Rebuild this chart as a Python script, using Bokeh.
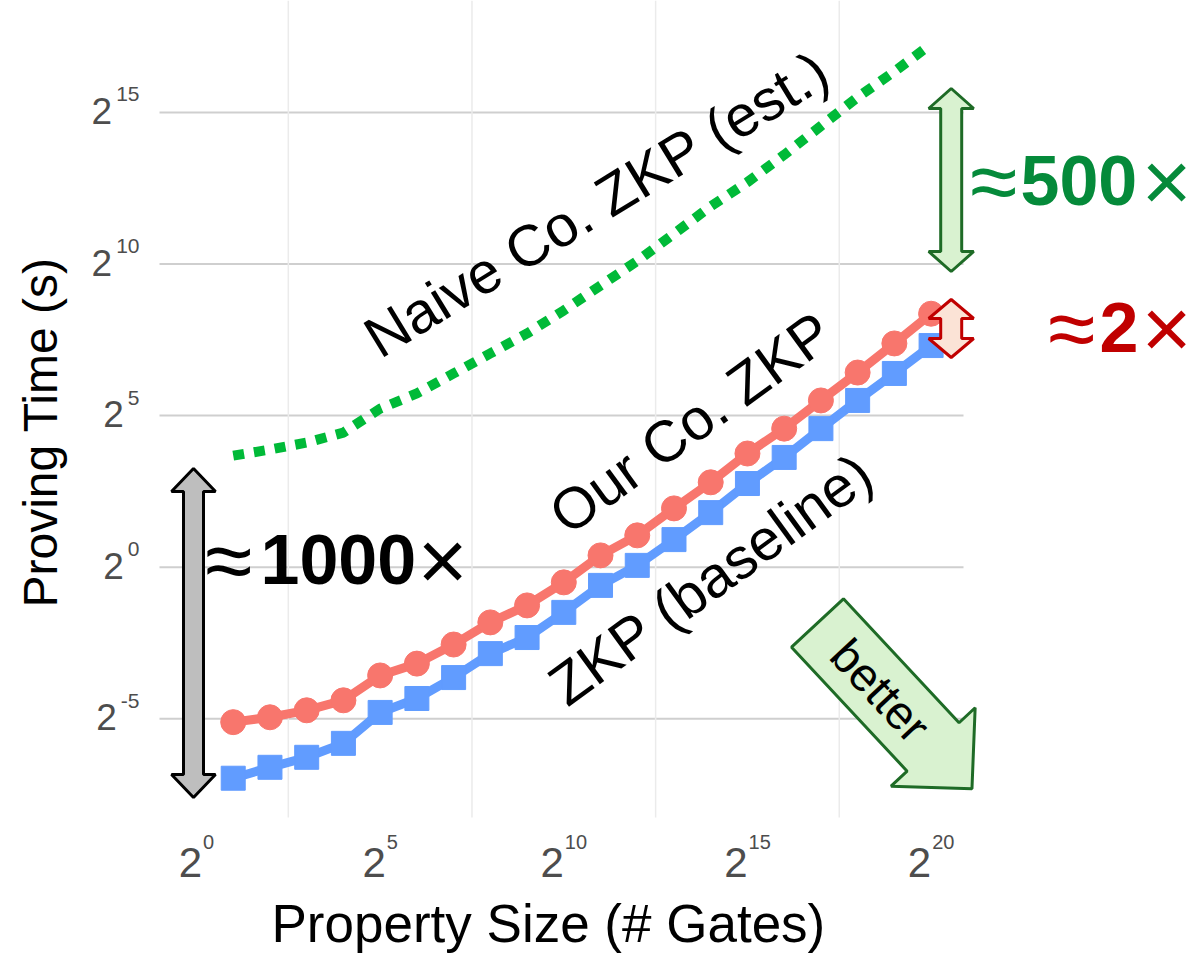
import math
from bokeh.plotting import figure
from bokeh.models import ColumnDataSource, Range1d, Title
from bokeh.core.properties import value
from bokeh.embed import file_html
from bokeh.resources import INLINE

# ---------------- data (log2 of values) ----------------
gates_log2 = list(range(1, 21))
our_log2 = [-5.11, -4.95, -4.72, -4.39, -3.57, -3.18, -2.55, -1.82, -1.26, -0.50,
            0.39, 1.05, 1.94, 2.80, 3.75, 4.57, 5.50, 6.42, 7.38, 8.36]
base_log2 = [-6.96, -6.60, -6.27, -5.81, -4.79, -4.33, -3.64, -2.85, -2.32, -1.49,
             -0.60, 0.06, 0.91, 1.80, 2.76, 3.62, 4.57, 5.50, 6.39, 7.31]
naive_log2 = [3.68, 3.88, 4.11, 4.44, 5.23, 5.73, 6.39, 7.05, 7.71, 8.47,
              9.29, 10.10, 11.00, 11.90, 12.70, 13.60, 14.55, 15.50, 16.35, 17.25]

x_ticks = [0, 5, 10, 15, 20]
x_tick_exp = ["0", "5", "10", "15", "20"]
y_ticks = [-5, 0, 5, 10, 15]
y_tick_exp = ["-5", "0", "5", "10", "15"]
x_minor = [2.5, 7.5, 12.5, 17.5]

x_title = "Property Size (# Gates)"
y_title = "Proving Time (s)"
series_labels = ["Naive Co. ZKP (est.)", "Our Co. ZKP", "ZKP (baseline)"]
ratio_labels = [["\u2248", "1000", "\u00d7"], ["\u2248", "500", "\u00d7"], ["\u2248", "2", "\u00d7"]]

# ---------------- layout constants ----------------
W, H = 1194, 958
FL, FR, FT, FB = 78, 1194, 0, 892          # frame edges in page px
X0, KX = 196.0, 36.73                      # page px of x=0, px per unit
Y0, KY = 566.7, 30.32

def dx(px):
    return (px - X0) / KX

def dy(py):
    return (Y0 - py) / KY

PANEL_X = (dx(159), dx(963))
PANEL_Y = (dy(817), dy(0))

FONT = value("Liberation Sans")
RED, BLUE, GREEN = "#F8766D", "#619CFF", "#00BA38"

p = figure(width=W, height=H, output_backend="svg", toolbar_location=None,
           x_range=Range1d(dx(FL), dx(FR)), y_range=Range1d(dy(FB), dy(FT)),
           x_axis_location=None, y_axis_location=None,
           min_border_left=FL, min_border_right=W - FR, min_border_top=FT,
           min_border_bottom=H - FB)
p.outline_line_color = None
p.background_fill_color = "white"
p.border_fill_color = "white"
p.xgrid.visible = False
p.ygrid.visible = False
for g in p.grid:
    g.grid_line_color = None

# axis titles
p.add_layout(Title(text=x_title, text_font="Liberation Sans", text_font_size="53px",
                   text_font_style="normal", text_color="black", align="left",
                   offset=193, vertical_align="top", standoff=2), "below")
p.add_layout(Title(text=y_title, text_font="Liberation Sans", text_font_size="48px",
                   text_font_style="normal", text_color="black", align="left",
                   offset=285, vertical_align="bottom", standoff=23), "left")

# ---------------- grid ----------------
p.segment(x0=[PANEL_X[0]] * len(y_ticks), x1=[PANEL_X[1]] * len(y_ticks),
          y0=y_ticks, y1=y_ticks, line_color="#cfcfcf", line_width=2)
p.segment(x0=x_minor, x1=x_minor, y0=[PANEL_Y[0]] * len(x_minor),
          y1=[PANEL_Y[1]] * len(x_minor), line_color="#ebebeb", line_width=1.5)

# ---------------- tick labels ----------------
def sup_w(s, fs):
    return sum((0.333 if c == "-" else 0.556) for c in s) * fs

XT_FS, XS_FS = 42, 20
xb_off, xs_off = [], []
for e in x_tick_exp:
    w2 = 0.556 * XT_FS
    tot = w2 + 1 + sup_w(e, XS_FS)
    xb_off.append(-tot / 2)
    xs_off.append(-tot / 2 + w2 + 1)
xsrc = ColumnDataSource(dict(x=x_ticks, y=[PANEL_Y[0]] * len(x_ticks),
                             base=["2"] * len(x_ticks), exp=x_tick_exp,
                             bo=xb_off, so=xs_off))
p.text(x="x", y="y", text="base", source=xsrc, x_offset="bo", y_offset=45,
       text_font=FONT, text_font_size=f"{XT_FS}px", text_color="#4D4D4D",
       text_align="left", text_baseline="middle")
p.text(x="x", y="y", text="exp", source=xsrc, x_offset="so", y_offset=24.5,
       text_font=FONT, text_font_size=f"{XS_FS}px", text_color="#4D4D4D",
       text_align="left", text_baseline="middle")

YT_FS, YS_FS = 37, 21
ysrc = ColumnDataSource(dict(x=[PANEL_X[0]] * len(y_ticks), y=y_ticks,
                             base=["2"] * len(y_ticks), exp=y_tick_exp,
                             bo=[-20 - sup_w(e, YS_FS) - 4 for e in y_tick_exp]))
p.text(x="x", y="y", text="base", source=ysrc, x_offset="bo", y_offset=-1.5,
       text_font=FONT, text_font_size=f"{YT_FS}px", text_color="#4D4D4D",
       text_align="right", text_baseline="middle")
p.text(x="x", y="y", text="exp", source=ysrc, x_offset=-20, y_offset=-18,
       text_font=FONT, text_font_size=f"{YS_FS}px", text_color="#4D4D4D",
       text_align="right", text_baseline="middle")

# ---------------- series ----------------
src = ColumnDataSource(dict(x=gates_log2, our=our_log2, base=base_log2, naive=naive_log2))
p.line("x", "naive", source=src, line_color=GREEN, line_width=10,
       line_dash="11 10", line_cap="butt")
p.line("x", "base", source=src, line_color=BLUE, line_width=9)
p.scatter("x", "base", source=src, marker="square", size=24, color=BLUE)
p.line("x", "our", source=src, line_color=RED, line_width=9)
p.scatter("x", "our", source=src, marker="circle", size=25, color=RED)

# ---------------- annotation arrows ----------------
def double_arrow(xc, ytop, ybot, head_w, head_len, shaft_w):
    # inputs in page px, output in data units
    hw, sw = head_w / 2, shaft_w / 2
    pts = [(xc, ytop), (xc + hw, ytop + head_len), (xc + sw, ytop + head_len),
           (xc + sw, ybot - head_len), (xc + hw, ybot - head_len), (xc, ybot),
           (xc - hw, ybot - head_len), (xc - sw, ybot - head_len),
           (xc - sw, ytop + head_len), (xc - hw, ytop + head_len)]
    return [dx(a) for a, b in pts], [dy(b) for a, b in pts]

gx, gy = double_arrow(193, 468, 797, 44, 23, 20)
p.patch(gx, gy, fill_color="#BEBEBE", line_color="black", line_width=3)
ex, ey = double_arrow(950.7, 88, 271, 45, 20, 21)
p.patch(ex, ey, fill_color="#D9F2D0", line_color="#1E6B26", line_width=3)
rx, ry = double_arrow(950.7, 299, 357, 45, 19, 21)
p.patch(rx, ry, fill_color="#FBE3D6", line_color="#C00000", line_width=3)

# "better" block arrow
ang = math.radians(47)
ux, uy = math.cos(ang), math.sin(ang)
nx, ny = -math.sin(ang), math.cos(ang)
tx, ty = 817.0, 622.5
SL, HL, SW, HW = 169.5, 57.0, 35.5, 57.5
bpts = [(tx + nx * SW, ty + ny * SW), (tx + ux * SL + nx * SW, ty + uy * SL + ny * SW),
        (tx + ux * SL + nx * HW, ty + uy * SL + ny * HW),
        (tx + ux * (SL + HL), ty + uy * (SL + HL)),
        (tx + ux * SL - nx * HW, ty + uy * SL - ny * HW),
        (tx + ux * SL - nx * SW, ty + uy * SL - ny * SW), (tx - nx * SW, ty - ny * SW)]
p.patch([dx(a) for a, b in bpts], [dy(b) for a, b in bpts],
        fill_color="#D9F2D0", line_color="#1E6B26", line_width=3)
p.text(x=[dx(880)], y=[dy(690)], text=["better"], angle=-ang, text_font=FONT,
       text_font_size="47px", text_color="black", text_align="center",
       text_baseline="middle")

# ---------------- series labels ----------------
p.text(x=[dx(596), dx(690), dx(710)], y=[dy(203), dy(422), dy(578)],
       text=series_labels, angle=[math.radians(31.4), math.radians(36), math.radians(36)],
       text_font=FONT, text_font_size="58px", text_color="black",
       text_align="center", text_baseline="middle")

# ---------------- ratio labels ----------------
SYM_FS, NUM_FS = "86px", "70px"

def ratio(parts, xs_px, yc_px, color):
    p.text(x=[dx(xs_px[0]), dx(xs_px[2])], y=[dy(yc_px)] * 2, text=[parts[0], parts[2]],
           text_font=FONT, text_font_size=SYM_FS, text_color=color,
           text_align="left", text_baseline="middle")
    p.text(x=[dx(xs_px[1])], y=[dy(yc_px)], text=[parts[1]], text_font=FONT,
           text_font_size=NUM_FS, text_font_style="bold", text_color=color,
           text_align="left", text_baseline="middle")

ratio(ratio_labels[0], [204.5, 260, 417], 559, "black")
ratio(ratio_labels[1], [969.5, 1020, 1141], 180, "#058A3A")
ratio(ratio_labels[2], [1047.5, 1099, 1141], 327, "#C00000")

open("out.html", "w").write(file_html(p, INLINE))
